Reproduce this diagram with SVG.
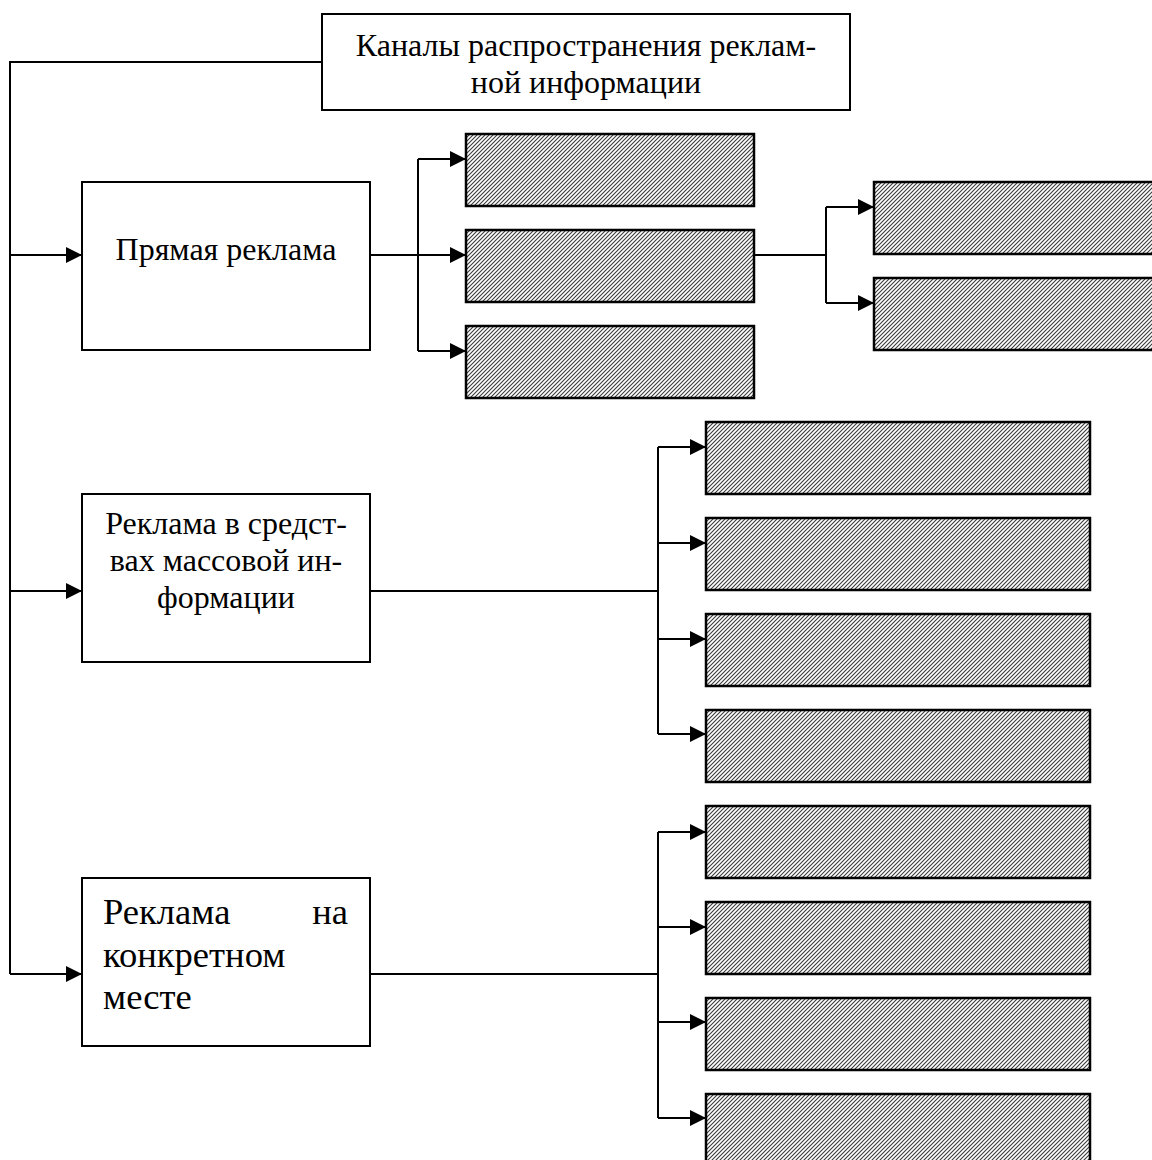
<svg xmlns="http://www.w3.org/2000/svg" width="1152" height="1160" viewBox="0 0 1152 1160">
  <style>
    .box { fill: #fff; stroke: #000; stroke-width: 2; }
    .hatch { fill: url(#diag); stroke: #000; stroke-width: 2.5; }
    .wire { fill: none; stroke: #000; stroke-width: 2; }
    .lbl { font-family: "Liberation Serif", "Times New Roman", serif; font-size: 32px; fill: #000; }
    .big { font-size: 36.6px; }
    .mid { text-anchor: middle; }
  </style>
  <defs>
    <!-- dense upward diagonal hatching -->
    <pattern id="diag" patternUnits="userSpaceOnUse" width="4" height="4">
      <rect width="4" height="4" fill="#fff"/>
      <path d="M-1,1 L1,-1 M0,4 L4,0 M3,5 L5,3" stroke="#3a3a3a" stroke-width="1.1"/>
    </pattern>
    <marker id="arrow" markerUnits="userSpaceOnUse" markerWidth="18" markerHeight="18" refX="16" refY="8" orient="auto" overflow="visible">
      <path d="M0,0 L16,8 L0,16 z" fill="#000"/>
    </marker>
  </defs>

  <!-- connectors -->
  <g id="connectors">
    <!-- main trunk -->
    <path class="wire" d="M322,62 H10 V974"/>
    <path class="wire" d="M10,255 H82" marker-end="url(#arrow)"/>
    <path class="wire" d="M10,591 H82" marker-end="url(#arrow)"/>
    <path class="wire" d="M10,974 H82" marker-end="url(#arrow)"/>

    <!-- direct advertising branch -->
    <path class="wire" d="M370,255 H418"/>
    <path class="wire" d="M418,159 V351"/>
    <path class="wire" d="M418,159 H466" marker-end="url(#arrow)"/>
    <path class="wire" d="M418,255 H466" marker-end="url(#arrow)"/>
    <path class="wire" d="M418,351 H466" marker-end="url(#arrow)"/>

    <!-- sub-branch -->
    <path class="wire" d="M754,255 H826"/>
    <path class="wire" d="M826,207 V303"/>
    <path class="wire" d="M826,207 H874" marker-end="url(#arrow)"/>
    <path class="wire" d="M826,303 H874" marker-end="url(#arrow)"/>

    <!-- mass media branch -->
    <path class="wire" d="M370,591 H658"/>
    <path class="wire" d="M658,447 V734"/>
    <path class="wire" d="M658,447 H706" marker-end="url(#arrow)"/>
    <path class="wire" d="M658,543 H706" marker-end="url(#arrow)"/>
    <path class="wire" d="M658,639 H706" marker-end="url(#arrow)"/>
    <path class="wire" d="M658,734 H706" marker-end="url(#arrow)"/>

    <!-- point-of-sale branch -->
    <path class="wire" d="M370,974 H658"/>
    <path class="wire" d="M658,832 V1118"/>
    <path class="wire" d="M658,832 H706" marker-end="url(#arrow)"/>
    <path class="wire" d="M658,927 H706" marker-end="url(#arrow)"/>
    <path class="wire" d="M658,1022 H706" marker-end="url(#arrow)"/>
    <path class="wire" d="M658,1118 H706" marker-end="url(#arrow)"/>
  </g>

  <!-- root -->
  <g id="root">
    <rect class="box" x="322" y="14" width="528" height="96"/>
    <text class="lbl mid" x="586" y="56">Каналы распространения реклам-</text>
    <text class="lbl mid" x="586" y="93">ной информации</text>
  </g>

  <!-- categories -->
  <g id="direct">
    <rect class="box" x="82" y="182" width="288" height="168"/>
    <text class="lbl mid" x="226" y="260">Прямая реклама</text>
  </g>
  <g id="media">
    <rect class="box" x="82" y="494" width="288" height="168"/>
    <text class="lbl mid" x="226" y="534">Реклама в средст-</text>
    <text class="lbl mid" x="226" y="571">вах массовой ин-</text>
    <text class="lbl mid" x="226" y="608">формации</text>
  </g>
  <g id="place">
    <rect class="box" x="82" y="878" width="288" height="168"/>
    <text class="lbl big" x="103" y="924">Реклама</text>
    <text class="lbl big" x="348" y="924" text-anchor="end">на</text>
    <text class="lbl big" x="103" y="967">конкретном</text>
    <text class="lbl big" x="103" y="1009">месте</text>
  </g>

  <!-- hatched placeholders -->
  <g id="direct-1"><rect class="hatch" x="466" y="134" width="288" height="72"/></g>
  <g id="direct-2"><rect class="hatch" x="466" y="230" width="288" height="72"/></g>
  <g id="direct-3"><rect class="hatch" x="466" y="326" width="288" height="72"/></g>
  <g id="direct-2a"><rect class="hatch" x="874" y="182" width="300" height="72"/></g>
  <g id="direct-2b"><rect class="hatch" x="874" y="278" width="300" height="72"/></g>

  <g id="media-1"><rect class="hatch" x="706" y="422" width="384" height="72"/></g>
  <g id="media-2"><rect class="hatch" x="706" y="518" width="384" height="72"/></g>
  <g id="media-3"><rect class="hatch" x="706" y="614" width="384" height="72"/></g>
  <g id="media-4"><rect class="hatch" x="706" y="710" width="384" height="72"/></g>

  <g id="place-1"><rect class="hatch" x="706" y="806" width="384" height="72"/></g>
  <g id="place-2"><rect class="hatch" x="706" y="902" width="384" height="72"/></g>
  <g id="place-3"><rect class="hatch" x="706" y="998" width="384" height="72"/></g>
  <g id="place-4"><rect class="hatch" x="706" y="1094" width="384" height="72"/></g>
</svg>
